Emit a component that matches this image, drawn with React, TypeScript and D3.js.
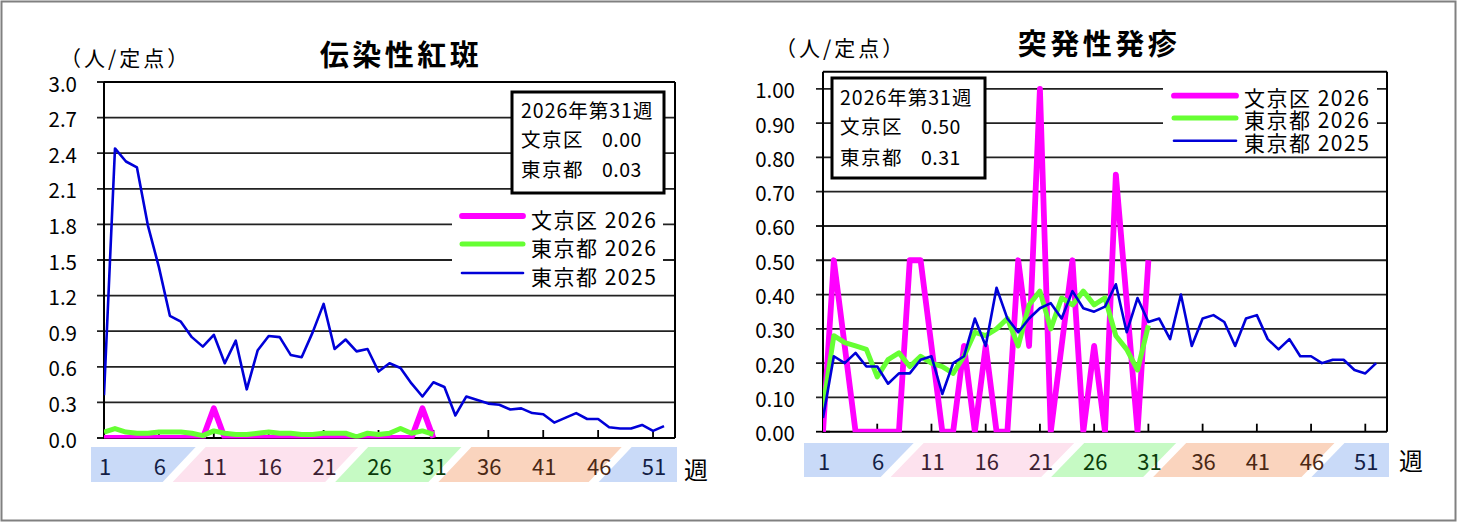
import React from "react";
import * as d3 from "d3";

// ---------- data ----------
const weekTickLabels = [1, 6, 11, 16, 21, 26, 31, 36, 41, 46, 51];

// 伝染性紅斑
const fifthYTicks = [0, 0.3, 0.6, 0.9, 1.2, 1.5, 1.8, 2.1, 2.4, 2.7, 3.0];
const fifthBunkyo2026 = [0, 0, 0, 0, 0, 0, 0, 0, 0, 0, 0.25, 0, 0, 0, 0, 0, 0, 0, 0, 0, 0, 0, 0, 0, 0, 0, 0, 0, 0, 0.25, 0];
const fifthTokyo2026 = [0.05, 0.08, 0.05, 0.04, 0.04, 0.05, 0.05, 0.05, 0.04, 0.02, 0.06, 0.04, 0.03, 0.03, 0.04, 0.05, 0.04, 0.04, 0.03, 0.03, 0.04, 0.04, 0.04, 0.01, 0.04, 0.03, 0.04, 0.08, 0.04, 0.06, 0.03];
const fifthTokyo2025 = [0.36, 2.44, 2.33, 2.28, 1.79, 1.44, 1.03, 0.98, 0.85, 0.77, 0.87, 0.63, 0.82, 0.41, 0.74, 0.86, 0.85, 0.70, 0.68, 0.89, 1.13, 0.75, 0.83, 0.73, 0.75, 0.56, 0.63, 0.59, 0.46, 0.35, 0.47, 0.43, 0.19, 0.35, 0.32, 0.29, 0.28, 0.24, 0.25, 0.21, 0.20, 0.13, 0.17, 0.21, 0.16, 0.16, 0.09, 0.08, 0.08, 0.11, 0.06, 0.10];
const fifthLatest = { bunkyo: "0.00", tokyo: "0.03" };

// 突発性発疹
const roseolaYTicks = [0, 0.1, 0.2, 0.3, 0.4, 0.5, 0.6, 0.7, 0.8, 0.9, 1.0];
const roseolaBunkyo2026 = [0, 0.5, 0.25, 0, 0, 0, 0, 0, 0.5, 0.5, 0.25, 0, 0, 0.25, 0, 0.25, 0, 0, 0.5, 0.25, 1.0, 0, 0.25, 0.5, 0, 0.25, 0, 0.75, 0.38, 0, 0.5];
const roseolaTokyo2026 = [0.07, 0.28, 0.26, 0.25, 0.24, 0.16, 0.21, 0.23, 0.19, 0.22, 0.20, 0.19, 0.17, 0.22, 0.29, 0.28, 0.30, 0.33, 0.25, 0.37, 0.41, 0.30, 0.39, 0.37, 0.41, 0.37, 0.39, 0.28, 0.24, 0.18, 0.31];
const roseolaTokyo2025 = [0.04, 0.22, 0.20, 0.23, 0.19, 0.19, 0.14, 0.17, 0.17, 0.21, 0.22, 0.11, 0.20, 0.22, 0.33, 0.25, 0.42, 0.33, 0.29, 0.33, 0.36, 0.375, 0.33, 0.41, 0.36, 0.35, 0.365, 0.43, 0.29, 0.39, 0.32, 0.33, 0.27, 0.40, 0.25, 0.33, 0.34, 0.32, 0.25, 0.33, 0.34, 0.27, 0.24, 0.27, 0.22, 0.22, 0.20, 0.21, 0.21, 0.18, 0.17, 0.20];
const roseolaLatest = { bunkyo: "0.50", tokyo: "0.31" };

// season bands (week boundaries)
const seasonBounds = [8.3, 23.1, 32.5, 47.1];
const seasonFills = ["#c9daf8", "#fde2ee", "#c6fac4", "#fad4be", "#c9daf8"];
const seasonTextColors = ["#141e46", "#3c1e32", "#0a3c0a", "#4b2814", "#141e46"];

const seriesNames = ["文京区 2026", "東京都 2026", "東京都 2025"];
const seriesColors = ["#ff00ff", "#66ff33", "#0000d8"];
const seriesWidths = [5.8, 5, 2.6];

const FONT = "'Noto Sans CJK JP', 'Noto Sans', sans-serif";

type ChartCfg = {
  id: string;
  title: string;
  titleX: number;
  titleY: number;
  unitX: number;
  unitY: number;
  x0: number;
  x1: number;
  yTop: number;
  yBottom: number;
  yMax: number;
  yTicks: number[];
  decimals: number;
  labelRight: number;
  bandLeft: number;
  bandTop: number;
  bandBottom: number;
  weekX: number;
  weekY: number;
  series: number[][];
  latest: { bunkyo: string; tokyo: string };
  info: { x: number; y: number; w: number; h: number; tx: number; vx: number; lines: number[] };
  legend: { x: number; y: number; w: number; h: number; lx0: number; lx1: number; tx: number; ly: number[]; dy: number };
};

function Chart({ c }: { c: ChartCfg }) {
  const x = d3.scaleLinear().domain([1, 53]).range([c.x0, c.x1]);
  const y = d3.scaleLinear().domain([0, c.yMax]).range([c.yBottom, c.yTop]);
  const line = d3
    .line<number>()
    .x((_, i) => x(i + 1))
    .y((d) => y(d));

  // bands
  const gap = 10;
  const slant = 33;
  const edges = [null as number | null, ...seasonBounds, null as number | null];
  const bands = seasonFills.map((fill, i) => {
    const L = edges[i];
    const R = edges[i + 1];
    const lb = L === null ? c.bandLeft : x(L) + gap / 2 - slant / 2;
    const lt = L === null ? c.bandLeft : x(L) + gap / 2 + slant / 2;
    const rb = R === null ? c.x1 + 2 : x(R) - gap / 2 - slant / 2;
    const rt = R === null ? c.x1 + 2 : x(R) - gap / 2 + slant / 2;
    return { fill, points: `${lt},${c.bandTop} ${rt},${c.bandTop} ${rb},${c.bandBottom} ${lb},${c.bandBottom}` };
  });
  const bandIndex = (w: number) => {
    let i = 0;
    while (i < seasonBounds.length && w > seasonBounds[i]) i++;
    return i;
  };
  const clipId = `clip-${c.id}`;

  return (
    <g fontFamily={FONT}>
      <defs>
        <clipPath id={clipId}>
          <rect x={c.x0} y={c.yTop - 1} width={c.x1 - c.x0} height={c.yBottom - c.yTop + 1.5} />
        </clipPath>
      </defs>
      <text x={c.titleX} y={c.titleY} fontSize={29} fontWeight="bold" textAnchor="middle" letterSpacing={3.5} fill="#000">
        {c.title}
      </text>
      <text x={c.unitX} y={c.unitY} fontSize={21} letterSpacing={3} fill="#000">
        （人/定点）
      </text>

      {/* gridlines + y ticks */}
      {c.yTicks.map((t) => (
        <g key={t}>
          <line x1={c.x0 - 7} x2={t === 0 ? c.x0 + 7 : c.x1} y1={y(t)} y2={y(t)} stroke={t === 0 ? "#000" : "#222"} strokeWidth={1.8} />
          <text x={c.labelRight} y={y(t) + 9.5} fontSize={20.5} textAnchor="end" fill="#000">
            {t.toFixed(c.decimals)}
          </text>
        </g>
      ))}

      {/* plot frame */}
      <line x1={c.x0} x2={c.x1} y1={c.yTop} y2={c.yTop} stroke="#000" strokeWidth={2} />
      <line x1={c.x1} x2={c.x1} y1={c.yTop} y2={c.yBottom} stroke="#000" strokeWidth={2} />
      <line x1={c.x0} x2={c.x0} y1={c.yTop} y2={c.yBottom + 1} stroke="#000" strokeWidth={2} />
      <line x1={c.x0} x2={c.x1} y1={c.yBottom} y2={c.yBottom} stroke="#000" strokeWidth={2} />
      {weekTickLabels.slice(1).map((w) => (
        <line key={w} x1={x(w)} x2={x(w)} y1={c.yBottom} y2={c.yBottom - 8} stroke="#000" strokeWidth={1.8} />
      ))}

      {/* legend */}
      <rect x={c.legend.x} y={c.legend.y} width={c.legend.w} height={c.legend.h} fill="#fff" />
      {seriesNames.map((n, i) => (
        <g key={n}>
          <line
            x1={c.legend.lx0}
            x2={c.legend.lx1}
            y1={c.legend.ly[i]}
            y2={c.legend.ly[i]}
            stroke={seriesColors[i]}
            strokeWidth={seriesWidths[i]}
            strokeLinecap="round"
          />
          <text x={c.legend.tx} y={c.legend.ly[i] + c.legend.dy} fontSize={21} letterSpacing={1.5} fill="#000">
            {n}
          </text>
        </g>
      ))}

      {/* info box */}
      <rect x={c.info.x} y={c.info.y} width={c.info.w} height={c.info.h} fill="#fff" stroke="#000" strokeWidth={3} />
      <text x={c.info.tx} y={c.info.lines[0]} fontSize={19.5} letterSpacing={1} fill="#000">
        2026年第31週
      </text>
      <text x={c.info.tx} y={c.info.lines[1]} fontSize={19.5} letterSpacing={1.5} fill="#000">
        文京区
      </text>
      <text x={c.info.vx} y={c.info.lines[1]} fontSize={19.5} letterSpacing={0.5} fill="#000">
        {c.latest.bunkyo}
      </text>
      <text x={c.info.tx} y={c.info.lines[2]} fontSize={19.5} letterSpacing={1.5} fill="#000">
        東京都
      </text>
      <text x={c.info.vx} y={c.info.lines[2]} fontSize={19.5} letterSpacing={0.5} fill="#000">
        {c.latest.tokyo}
      </text>

      {/* series */}
      <g clipPath={`url(#${clipId})`}>
        {c.series.map((s, i) => (
          <path
            key={i}
            d={line(s) || ""}
            fill="none"
            stroke={seriesColors[i]}
            strokeWidth={seriesWidths[i]}
            strokeLinejoin="round"
            strokeLinecap="butt"
          />
        ))}
      </g>

      {/* season bands */}
      {bands.map((b, i) => (
        <polygon key={i} points={b.points} fill={b.fill} />
      ))}
      {weekTickLabels.map((w) => (
        <text key={w} x={x(w) + 1} y={c.bandBottom - 7.5} fontSize={22} textAnchor="middle" fill={seasonTextColors[bandIndex(w)]}>
          {w}
        </text>
      ))}
      <text x={c.weekX} y={c.weekY} fontSize={24} textAnchor="middle" fill="#000">
        週
      </text>
    </g>
  );
}

const leftChart: ChartCfg = {
  id: "fifth",
  title: "伝染性紅斑",
  titleX: 401,
  titleY: 66,
  unitX: 60,
  unitY: 66,
  x0: 104,
  x1: 675,
  yTop: 82,
  yBottom: 438,
  yMax: 3.0,
  yTicks: fifthYTicks,
  decimals: 1,
  labelRight: 77,
  bandLeft: 91,
  bandTop: 447,
  bandBottom: 482,
  weekX: 696,
  weekY: 479,
  series: [fifthBunkyo2026, fifthTokyo2026, fifthTokyo2025],
  latest: fifthLatest,
  info: { x: 512, y: 92, w: 152, h: 101, tx: 521, vx: 602, lines: [118, 147, 177] },
  legend: { x: 452, y: 198, w: 211, h: 92, lx0: 462, lx1: 523, tx: 531, ly: [216, 244, 273], dy: 12 },
};

const rightChart: ChartCfg = {
  id: "roseola",
  title: "突発性発疹",
  titleX: 1099,
  titleY: 55,
  unitX: 775,
  unitY: 56,
  x0: 823,
  x1: 1387,
  yTop: 71.7,
  yBottom: 431.7,
  yMax: 1.05,
  yTicks: roseolaYTicks,
  decimals: 2,
  labelRight: 795,
  bandLeft: 804,
  bandTop: 443,
  bandBottom: 477,
  weekX: 1411,
  weekY: 470,
  series: [roseolaBunkyo2026, roseolaTokyo2026, roseolaTokyo2025],
  latest: roseolaLatest,
  info: { x: 832, y: 78, w: 153, h: 100, tx: 840, vx: 921, lines: [105, 134, 165] },
  legend: { x: 1163, y: 76, w: 214, h: 78, lx0: 1174, lx1: 1236, tx: 1244, ly: [95.7, 118, 140.7], dy: 10 },
};

export default function App() {
  return (
    <svg
      width={1458}
      height={523}
      viewBox="0 0 1458 523"
      style={{ position: "absolute", left: 0, top: 0, background: "#fff" }}
    >
      <rect x={0} y={0} width={1458} height={523} fill="#fff" />
      <rect x={1.5} y={1.5} width={1454} height={519} fill="none" stroke="#808080" strokeWidth={2} />
      <Chart c={leftChart} />
      <Chart c={rightChart} />
    </svg>
  );
}
